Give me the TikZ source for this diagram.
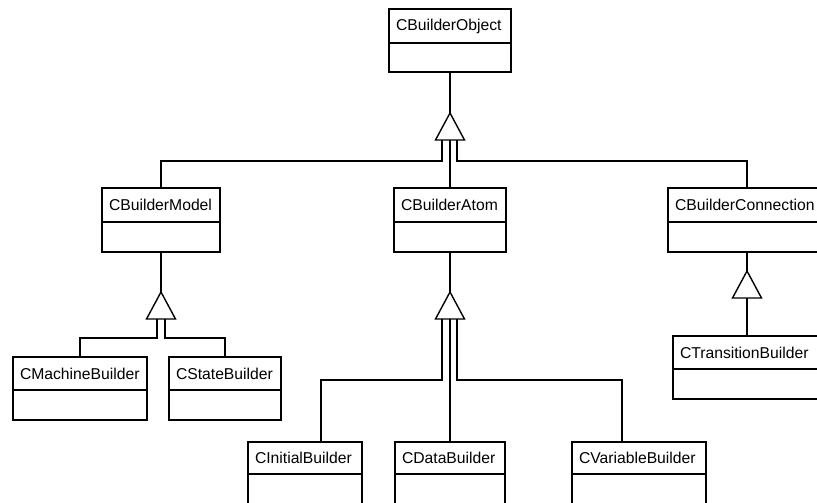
\documentclass[tikz,border=0pt]{standalone}
\usepackage{fontspec}
\setmainfont{Liberation Sans}
\tikzset{
  cls/.style={draw=black, line width=1.4pt, outer sep=0pt, inner ysep=0pt, inner xsep=7pt,
    align=left, font=\fontsize{15.7}{18}\selectfont, text=black},
  conn/.style={draw=black, line width=1.4pt},
  gen/.style={draw=black, line width=1.4pt, fill=white}
}
\newcommand\umlclass[7]{%
  \node[cls, minimum width={#4-#2}, text width={#4-#2-14}, minimum height={#5-#3}, anchor=north west] (#1) at (#2,#3) {#7};
  \node[cls, minimum width={#4-#2}, minimum height={#6-#5}, anchor=north west] (#1-b) at (#1.south west) {};
}
\newcommand\gentri[3]{%
  \coordinate (#1) at (#2,#3);
  \coordinate (#1-l) at (#2-14.5,#3+27);
  \coordinate (#1-r) at (#2+14.5,#3+27);
  \draw[gen] (#1) -- (#1-l) -- (#1-r) -- cycle;
}
\begin{document}
\begin{tikzpicture}[x=1pt,y=-1pt]
\clip (0,0) rectangle (817,503);
\useasboundingbox (0,0) rectangle (817,503);
\fill[white] (0,0) rectangle (817,503);

\umlclass{obj}{389}{9}{511}{43}{72}{CBuilderObject}
\umlclass{model}{102}{188}{220}{222}{252}{CBuilderModel}
\umlclass{atom}{394}{188}{506}{222}{252}{CBuilderAtom}
\umlclass{bconn}{668}{188}{826}{222}{252}{CBuilderConnection}
\umlclass{mach}{13}{357}{147}{390}{420}{CMachineBuilder}
\umlclass{state}{169}{357}{281}{390}{420}{CStateBuilder}
\umlclass{trans}{673}{336}{821}{369}{399}{CTransitionBuilder}
\umlclass{init}{248}{442}{362}{474}{520}{CInitialBuilder}
\umlclass{data}{395}{442}{505}{474}{520}{CDataBuilder}
\umlclass{var}{572}{442}{706}{474}{520}{CVariableBuilder}

% generalization triangles
\gentri{tO}{450}{113}
\gentri{tM}{161}{292}
\gentri{tA}{450}{292}
\gentri{tC}{747}{271}

% stubs under triangles
\coordinate (oL) at (442,140);
\coordinate (oC) at (450,140);
\coordinate (oR) at (457,140);
\coordinate (mL) at (157,319);
\coordinate (mR) at (165,319);
\coordinate (aL) at (442,319);
\coordinate (aC) at (450,319);
\coordinate (aR) at (457,319);
\coordinate (cB) at (747,298);

% to CBuilderObject
\draw[conn] (obj-b.south) -- (tO);
\draw[conn] (oL) -- ++(0,21) -| (model.north);
\draw[conn] (oC) -- (atom.north);
\draw[conn] (oR) -- ++(0,21) -| (bconn.north);

% to CBuilderModel
\draw[conn] (model-b.south) -- (tM);
\draw[conn] (mL) -- ++(0,19) -| (mach.north);
\draw[conn] (mR) -- ++(0,19) -| (state.north);

% to CBuilderAtom
\draw[conn] (atom-b.south) -- (tA);
\draw[conn] (aL) -- ++(0,61) -| ([xshift=16pt]init.north);
\draw[conn] (aC) -- (data.north);
\draw[conn] (aR) -- ++(0,61) -| ([xshift=-17pt]var.north);

% to CBuilderConnection
\draw[conn] (bconn-b.south) -- (tC);
\draw[conn] (cB) -- (trans.north);
\end{tikzpicture}
\end{document}
